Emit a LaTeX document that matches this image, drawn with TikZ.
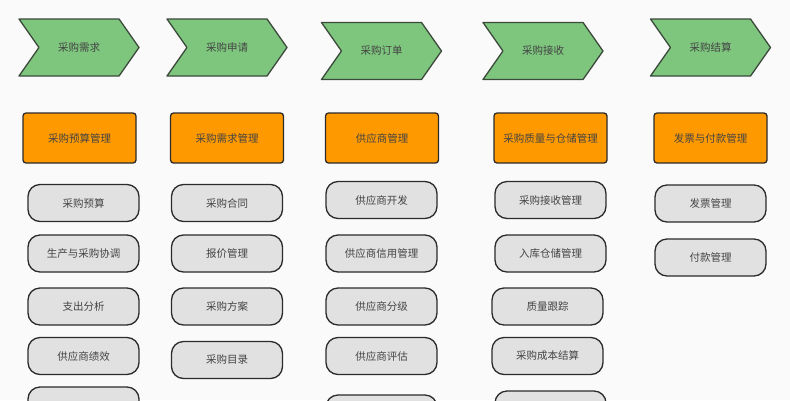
\documentclass[tikz,border=0pt]{standalone}
\usepackage{fontspec}
\setmainfont{Noto Sans CJK SC}
\usetikzlibrary{shapes.symbols}
\definecolor{stepgreen}{HTML}{7EC57E}
\definecolor{steporange}{HTML}{FF9900}
\definecolor{itemgray}{HTML}{E1E1E1}
\definecolor{textgray}{HTML}{444444}
\definecolor{edgedark}{HTML}{2B2B2B}
\definecolor{paper}{HTML}{FAFAFA}

\begin{document}
\begin{tikzpicture}[x=1pt,y=-1pt,line join=round,
  chev/.style={signal,signal to=east,signal from=west,signal pointer angle=110,
    fill=stepgreen,draw=edgedark!80!stepgreen,line width=1.3pt,
    minimum width=120pt,minimum height=57pt,inner sep=0pt,
    text=textgray,font=\fontsize{10.5}{12}\selectfont},
  group/.style={rectangle,rounded corners=3pt,fill=steporange,draw=edgedark,
    line width=1.3pt,minimum width=113pt,minimum height=50pt,inner sep=0pt,
    text=textgray,font=\fontsize{10.5}{12}\selectfont},
  item/.style={rectangle,rounded corners=12pt,fill=itemgray,draw=edgedark,
    line width=1.3pt,minimum width=111pt,minimum height=37pt,inner sep=0pt,
    text=textgray,font=\fontsize{10.5}{12}\selectfont}]
\fill[paper] (0,0) rectangle (790,400);
\useasboundingbox (0,0) rectangle (790,400);
\clip (0,0) rectangle (790,400);

% stages
\node[chev] (s1) at (79,47.5) {采购需求};
\node[chev] (s2) at (227,47.5) {采购申请};
\node[chev] (s3) at (381.5,51) {采购订单};
\node[chev] (s4) at (543,51) {采购接收};
\node[chev] (s5) at (710.5,47.5) {采购结算};

% groups
\node[group] (g1) at (79.5,138) {采购预算管理};
\node[group] (g2) at (227,138) {采购需求管理};
\node[group] (g3) at (382,138) {供应商管理};
\node[group] (g4) at (550.5,138) {采购质量与仓储管理};
\node[group] (g5) at (710.5,138) {发票与付款管理};

% items
\node[item] (a1) at (83.5,203) {采购预算};
\node[item] (a2) at (83.5,253.5) {生产与采购协调};
\node[item] (a3) at (83.5,306.5) {支出分析};
\node[item] (a4) at (83.5,356) {供应商绩效};
\node[item] (a5) at (83.5,405.5) {};

\node[item] (b1) at (227,203) {采购合同};
\node[item] (b2) at (227,253.5) {报价管理};
\node[item] (b3) at (227,306.5) {采购方案};
\node[item] (b4) at (227,360) {采购目录};

\node[item] (c1) at (381.5,200) {供应商开发};
\node[item] (c2) at (381.5,253.5) {供应商信用管理};
\node[item] (c3) at (381.5,306.5) {供应商分级};
\node[item] (c4) at (381.5,356) {供应商评估};
\node[item] (c5) at (381.5,413.5) {};

\node[item] (d1) at (550.5,200) {采购接收管理};
\node[item] (d2) at (550.5,253.5) {入库仓储管理};
\node[item] (d3) at (547.5,306.5) {质量跟踪};
\node[item] (d4) at (547.5,356) {采购成本结算};
\node[item] (d5) at (550.5,409.5) {};

\node[item] (e1) at (710.5,203.5) {发票管理};
\node[item] (e2) at (710.5,257.5) {付款管理};
\end{tikzpicture}
\end{document}
